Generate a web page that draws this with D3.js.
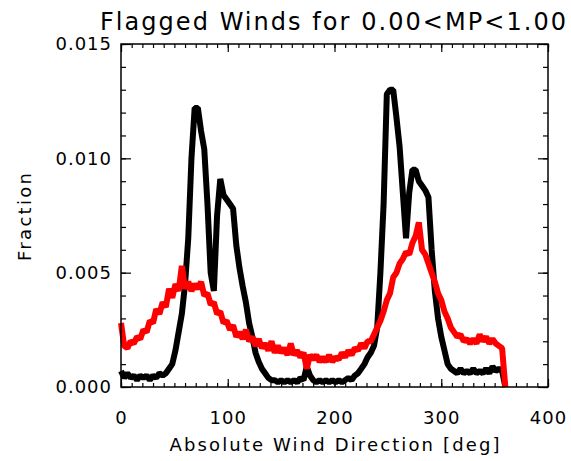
<!DOCTYPE html>
<html>
<head>
<meta charset="utf-8">
<script src="https://cdn.jsdelivr.net/npm/d3@7"></script>
<style>
body{margin:0;background:#fff;}
text{font-family:"DejaVu Sans",sans-serif;fill:#000;}
</style>
</head>
<body>
<script>
// fraction values in units of 1e-3, one every 3 deg from 0 to 360
var angleStep = 3;
var blackValues = [
	0.7,0.4,0.6,0.4,0.5,0.3,0.5,0.4,0.5,0.3,
	0.5,0.4,0.6,0.5,0.6,0.8,1.0,1.6,2.4,3.2,
	4.5,6.5,10.0,12.2,12.2,11.2,10.4,8.0,5.0,4.2,
	7.5,9.1,8.4,8.2,8.0,7.8,6.2,5.2,4.4,3.7,
	2.8,2.2,1.5,1.1,0.8,0.6,0.4,0.3,0.3,0.2,
	0.3,0.2,0.3,0.2,0.3,0.2,0.4,0.3,0.9,0.5,
	0.3,0.2,0.3,0.2,0.3,0.2,0.3,0.2,0.3,0.2,
	0.3,0.4,0.3,0.5,0.6,0.8,1.0,1.3,1.5,1.8,
	2.6,5.0,8.0,12.8,13.0,13.0,11.8,10.5,8.5,6.5,
	8.5,9.5,9.5,9.0,8.8,8.6,8.3,6.0,4.2,3.0,
	2.2,1.6,1.0,0.8,0.7,0.6,0.8,0.6,0.7,0.6,
	0.8,0.6,0.7,0.6,0.8,0.6,0.9,0.7,0.8,0.7,
	0
];
var redValues = [
	2.8,1.8,1.7,2.0,1.9,2.2,2.1,2.5,2.4,2.9,
	2.8,3.4,3.2,3.7,3.5,4.3,3.9,4.5,4.2,5.3,
	4.3,4.6,4.2,4.5,4.3,4.6,4.0,4.1,3.6,3.7,
	3.2,3.3,2.8,2.9,2.5,2.7,2.2,2.4,2.1,2.5,
	2.0,2.2,1.8,2.1,1.7,1.9,1.6,2.0,1.5,1.8,
	1.5,1.7,1.4,1.9,1.4,1.6,1.3,1.5,0.8,1.4,
	1.2,1.4,1.1,1.3,1.1,1.4,1.1,1.3,1.2,1.5,
	1.3,1.6,1.4,1.7,1.6,1.9,1.7,2.0,2.0,2.3,
	2.6,2.9,3.3,3.8,4.1,4.8,5.0,5.4,5.6,5.9,
	5.8,6.3,6.6,7.2,6.0,5.8,5.4,5.0,4.6,4.1,
	3.8,3.3,3.0,2.6,2.4,2.2,2.3,2.0,2.1,1.9,
	2.1,1.9,2.3,2.0,2.2,1.9,2.1,1.9,1.8,1.7,
	0
];
var xTicks = [0,100,200,300,400];
var yTicks = [0,0.005,0.010,0.015];
var titleText = "Flagged Winds for 0.00<MP<1.00";
var xTitle = "Absolute Wind Direction [deg]";
var yTitle = "Fraction";

var w = 571;
var h = 461;
var plotLeft = 121, plotRight = 548, plotTop = 44, plotBottom = 387;

var svg = d3.select("body")
		.append("svg")
		.attr("width",w)
		.attr("height",h);

svg.append("rect")
	.attr("width",w).attr("height",h).attr("fill","#fff");

var x = d3.scaleLinear().domain([0,400]).range([plotLeft,plotRight]);
var y = d3.scaleLinear().domain([0,0.015]).range([plotBottom,plotTop]);

var xMinor = d3.range(0,401,10);
var yMinor = d3.range(0,0.0151,0.001);

// axes, ticks pointing inwards
function drawAxis(axis,tx,ty,cls){
	var g = svg.append("g")
		.attr("class",cls)
		.attr("transform","translate("+tx+","+ty+")")
		.call(axis);
	g.select(".domain").remove();
	g.selectAll("line").attr("stroke","#000").attr("stroke-width",1.2);
	return g;
}

// minor ticks
drawAxis(d3.axisBottom(x).tickValues(xMinor).tickSize(-4).tickFormat(""),0,plotBottom,"xminor");
drawAxis(d3.axisTop(x).tickValues(xMinor).tickSize(-4).tickFormat(""),0,plotTop,"xminor2");
drawAxis(d3.axisLeft(y).tickValues(yMinor).tickSize(-5).tickFormat(""),plotLeft,0,"yminor");
drawAxis(d3.axisRight(y).tickValues(yMinor).tickSize(-5).tickFormat(""),plotRight,0,"yminor2");

// major ticks with labels
var gx = drawAxis(d3.axisBottom(x).tickValues(xTicks).tickSize(-8).tickPadding(24).tickFormat(d3.format("d")),0,plotBottom,"xaxis");
drawAxis(d3.axisTop(x).tickValues(xTicks).tickSize(-8).tickFormat(""),0,plotTop,"xaxis2");
var gy = drawAxis(d3.axisLeft(y).tickValues(yTicks).tickSize(-10).tickPadding(9).tickFormat(d3.format(".3f")),plotLeft,0,"yaxis");
drawAxis(d3.axisRight(y).tickValues(yTicks).tickSize(-10).tickFormat(""),plotRight,0,"yaxis2");

gx.selectAll("text").attr("font-size",18).attr("font-family","DejaVu Sans").attr("fill","#000").style("letter-spacing","1px");
gy.selectAll("text").attr("font-size",18).attr("font-family","DejaVu Sans").attr("fill","#000").style("letter-spacing","1px");

var line = d3.line()
	.x(function(d,i){ return x(i*angleStep); })
	.y(function(d){ return y(d/1000); });

svg.append("path")
	.datum(blackValues)
	.attr("d",line)
	.attr("fill","none")
	.attr("stroke","#000")
	.attr("stroke-width",6)
	.attr("stroke-linejoin","bevel");

svg.append("path")
	.datum(redValues)
	.attr("d",line)
	.attr("fill","none")
	.attr("stroke","#ff0000")
	.attr("stroke-width",6)
	.attr("stroke-linejoin","bevel");

// frame
svg.append("rect")
	.attr("x",plotLeft).attr("y",plotTop)
	.attr("width",plotRight-plotLeft).attr("height",plotBottom-plotTop)
	.attr("fill","none")
	.attr("stroke","#000")
	.attr("stroke-width",1.5);

// titles
svg.append("text")
	.attr("x",100).attr("y",30)
	.attr("font-size",24)
	.attr("textLength",466)
	.attr("lengthAdjust","spacing")
	.text(titleText);

svg.append("text")
	.attr("x",(plotLeft+plotRight)/2).attr("y",451)
	.attr("text-anchor","middle")
	.attr("font-size",18)
	.attr("textLength",330)
	.attr("lengthAdjust","spacing")
	.text(xTitle);

svg.append("text")
	.attr("transform","translate(31,217) rotate(-90)")
	.attr("text-anchor","middle")
	.attr("font-size",18)
	.attr("textLength",88)
	.attr("lengthAdjust","spacing")
	.text(yTitle);
</script>
</body>
</html>
